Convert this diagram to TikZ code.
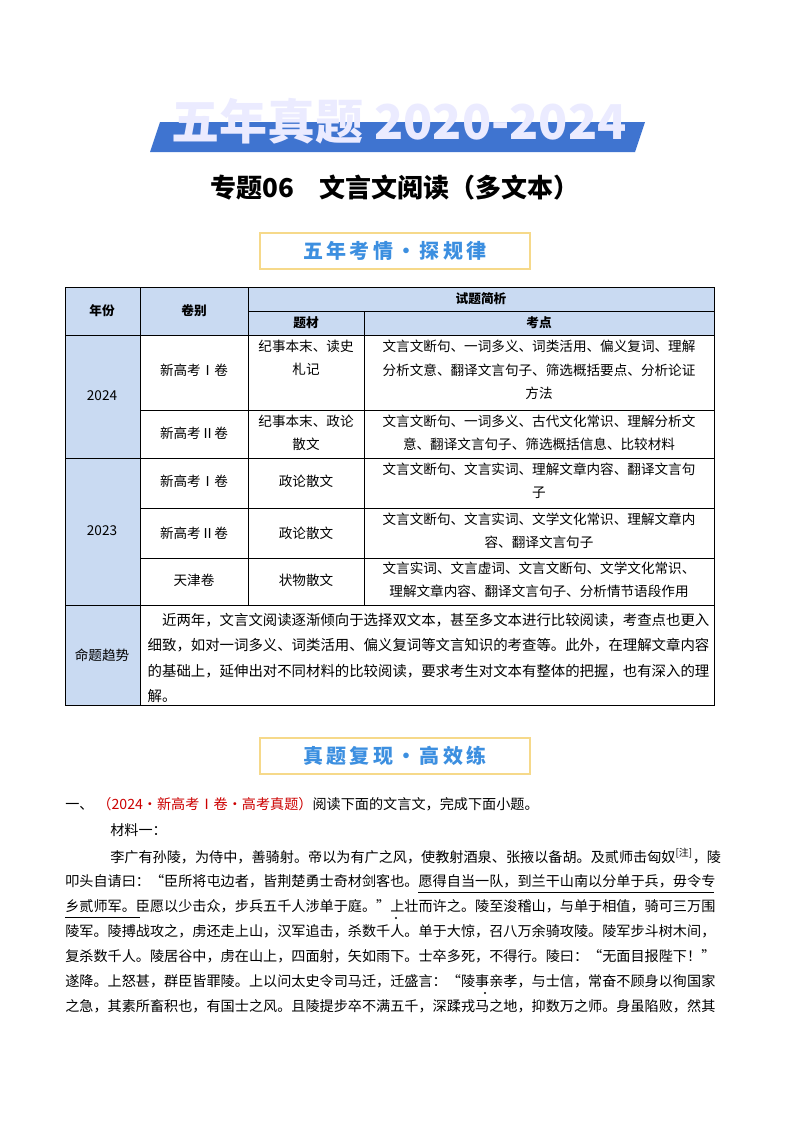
\documentclass[tikz,border=0pt]{standalone}
\usepackage{fontspec}
\setmainfont{Noto Sans CJK SC}
\definecolor{hdr}{HTML}{C9DAF2}
\definecolor{bann}{HTML}{3F74D0}
\definecolor{boxt}{HTML}{3C8FE0}
\definecolor{boxb}{HTML}{F6D98A}
\tikzset{cell/.style={font=\fontsize{10.2}{17.5}\selectfont,align=center},
 body/.style={anchor=west,font=\fontsize{10.6}{12}\selectfont,inner sep=0},
 tag/.style={draw=boxb,line width=0.8pt,fill=white,minimum width=202.5pt,minimum height=27pt,font=\fontsize{15}{15}\selectfont\bfseries,text=boxt}}
\begin{document}
\begin{tikzpicture}[x=0.75pt,y=-0.75pt]
\useasboundingbox[fill=white] (0,0) rectangle (800,1132);
% banner
\fill[bann] (160,122) -- (645,122) -- (635,152) -- (150,152) -- cycle;
\node (tt) [font=\fontsize{36}{36}\selectfont\bfseries,text=white!92!blue] at (399,121) {五年真题 2020-2024};
\node (sub) [font=\fontsize{19.5}{20}\selectfont\bfseries] at (395,188) {专题06\quad 文言文阅读（多文本）};
\node (t1) [tag] at (395,251) {五\,年\,考\,情\,·\,探\,规\,律};
\node (t2) [tag] at (395,756) {真\,题\,复\,现\,·\,高\,效\,练};
% table
\fill[hdr] (65,287) rectangle (714,335);
\fill[hdr] (65,335) rectangle (140,705);
\draw[line width=0.6pt] (65,287) rectangle (714,705);
\foreach \y in {335,458,605} \draw (65,\y) -- (714,\y);
\foreach \y in {311} \draw (248,\y) -- (714,\y);
\foreach \y in {410,508,558} \draw (140,\y) -- (714,\y);
\draw (140,287) -- (140,705);
\draw (248,287) -- (248,605);
\draw (364,311) -- (364,605);
\node (h1) [cell,font=\fontsize{9.5}{12}\selectfont\bfseries] at (102,311) {年份};
\node (h2) [cell,font=\fontsize{9.5}{12}\selectfont\bfseries] at (194,311) {卷别};
\node (h3) [cell,font=\fontsize{9.5}{12}\selectfont\bfseries] at (481,299) {试题简析};
\node (h4) [cell,font=\fontsize{9.5}{12}\selectfont\bfseries] at (306,323) {题材};
\node (h5) [cell,font=\fontsize{9.5}{12}\selectfont\bfseries] at (539,323) {考点};
\node (y1) [cell] at (102,396) {2024};
\node (y2) [cell] at (102,531) {2023};
\node (c1) [cell] at (194,370) {新高考Ⅰ卷};
\node (c2) [cell] at (194,433) {新高考Ⅱ卷};
\node (c3) [cell] at (194,481) {新高考Ⅰ卷};
\node (c4) [cell] at (194,533) {新高考Ⅱ卷};
\node (c5) [cell] at (194,580) {天津卷};
\node (d1) [cell] at (306,358) {纪事本末、读史\\札记};
\node (d2) [cell] at (306,433) {纪事本末、政论\\散文};
\node (d3) [cell] at (306,481) {政论散文};
\node (d4) [cell] at (306,533) {政论散文};
\node (d5) [cell] at (306,580) {状物散文};
\node (e1) [cell] at (539,370) {文言文断句、一词多义、词类活用、偏义复词、理解\\分析文意、翻译文言句子、筛选概括要点、分析论证\\方法};
\node (e2) [cell] at (539,433) {文言文断句、一词多义、古代文化常识、理解分析文\\意、翻译文言句子、筛选概括信息、比较材料};
\node (e3) [cell] at (539,481) {文言文断句、文言实词、理解文章内容、翻译文言句\\子};
\node (e4) [cell] at (539,531) {文言文断句、文言实词、文学文化常识、理解文章内\\容、翻译文言句子};
\node (e5) [cell] at (539,580) {文言实词、文言虚词、文言文断句、文学文化常识、\\理解文章内容、翻译文言句子、分析情节语段作用};
\node (f0) [cell] at (102,655) {命题趋势};
\node (f1) [cell,font=\fontsize{10.8}{18.8}\selectfont,align=left,anchor=north west] at (143,609) {\quad 近两年，文言文阅读逐渐倾向于选择双文本，甚至多文本进行比较阅读，考查点也更入\\细致，如对一词多义、词类活用、偏义复词等文言知识的考查等。此外，在理解文章内容\\的基础上，延伸出对不同材料的比较阅读，要求考生对文本有整体的把握，也有深入的理\\解。};
% body
\node (q) [body] at (65,804) {一、\;\textcolor{red!80!black}{（2024·新高考Ⅰ卷·高考真题）}阅读下面的文言文，完成下面小题。};
\node (m) [body] at (110,830) {材料一：};
\node (l1) [body] at (110,856) {李广有孙陵，为侍中，善骑射。帝以为有广之风，使教射酒泉、张掖以备胡。及贰师击匈奴\textsuperscript{[注]}，陵};
\node (l2) [body] at (65,881) {叩头自请曰：“臣所将屯边者，皆荆楚勇士奇材剑客也。愿得自当一队，到兰干山南以分单于兵，毋令专};
\node (l3) [body] at (65,906) {乡贰师军。臣愿以少击众，步兵五千人涉单于庭。”上壮而许之。陵至浚稽山，与单于相值，骑可三万围};
\node (l4) [body] at (65,931) {陵军。陵搏战攻之，虏还走上山，汉军追击，杀数千人。单于大惊，召八万余骑攻陵。陵军步斗树木间，};
\node (l5) [body] at (65,956) {复杀数千人。陵居谷中，虏在山上，四面射，矢如雨下。士卒多死，不得行。陵曰：“无面目报陛下！”};
\node (l6) [body] at (65,981) {遂降。上怒甚，群臣皆罪陵。上以问太史令司马迁，迁盛言：“陵事亲孝，与士信，常奋不顾身以徇国家};
\node (l7) [body] at (65,1006) {之急，其素所畜积也，有国士之风。且陵提步卒不满五千，深蹂戎马之地，抑数万之师。身虽陷败，然其};
\draw[line width=0.6pt] (418,892) -- (714,892);
\draw[line width=0.6pt] (65,917) -- (140,917);
\fill (396,918) circle (1.2);
\fill (485,993) circle (1.2);
\end{tikzpicture}
\end{document}
